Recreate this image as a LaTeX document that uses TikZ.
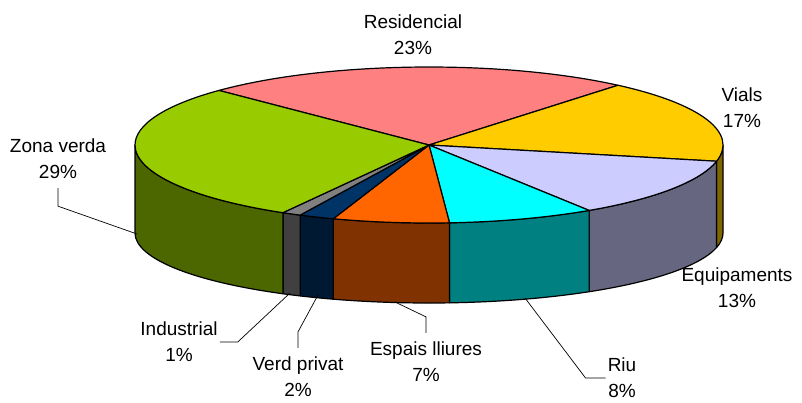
\documentclass[tikz,border=0pt]{standalone}
\usepackage{fontspec}
\setmainfont{Liberation Sans}
\usetikzlibrary{calc}

\definecolor{resid}{HTML}{FF8080}
\definecolor{vials}{HTML}{FFCC00}
\definecolor{equip}{HTML}{CCCCFF}
\definecolor{riu}{HTML}{00FFFF}
\definecolor{espais}{HTML}{FF6600}
\definecolor{verdpriv}{HTML}{003366}
\definecolor{indus}{HTML}{808080}
\definecolor{zverda}{HTML}{99CC00}

\begin{document}
\begin{tikzpicture}[x=1pt, y=-1pt,
    slice/.style={draw=black, line width=1.2pt, line join=round},
    lab/.style={align=center, inner xsep=2pt, inner ysep=9pt, font=\fontsize{19}{26}\selectfont},
    leader/.style={draw=black, line width=0.7pt}]
    \useasboundingbox (0,0) rectangle (802,402);

    \begin{scope}[shift={(429,145)}, yscale=-1]
        % Sides (front half only)
        \foreach \s/\e/\col in {0/-12/vials, -12/-57/equip, -57/-86/riu, -86/-109/espais,
                                -109/-116/verdpriv, -116/-119.8/indus, -119.8/-180/zverda} {
            \filldraw[slice, fill=\col!50!black] (\s:294 and 78)
                arc[start angle=\s, end angle=\e, x radius=294, y radius=78]
                -- ($(0,-88)+(\e:294 and 70)$)
                arc[start angle=\e, end angle=\s, x radius=294, y radius=70] -- cycle;
        }

        % Top face
        \foreach \s/\e/\col in {135.6/50/resid, 50/-12/vials, -12/-57/equip, -57/-86/riu,
                                -86/-109/espais, -109/-116/verdpriv, -116/-119.8/indus,
                                -119.8/-224.4/zverda} {
            \filldraw[slice, fill=\col] (0,0) -- (\s:294 and 78)
                arc[start angle=\s, end angle=\e, x radius=294, y radius=78] -- cycle;
        }
    \end{scope}

    % Leader ends on the pie
    \coordinate (zvtip) at (137,234);
    \coordinate (intip) at (290,293);
    \coordinate (vptip) at (318,295);
    \coordinate (eltip) at (395,302);
    \coordinate (rtip) at (525,298);

    % Labels
    \node[lab] (re) at (413,35) {Residencial\\23\%};
    \node[lab] (vi) at (742,108) {Vials\\17\%};
    \node[lab] (eq) at (737,288) {Equipaments\\13\%};
    \node[lab] (ri) at (622,378) {Riu\\8\%};
    \node[lab] (el) at (426,362) {Espais lliures\\7\%};
    \node[lab] (vp) at (298,377) {Verd privat\\2\%};
    \node[lab] (in) at (179,342) {Industrial\\1\%};
    \node[lab] (zv) at (58,159) {Zona verda\\29\%};

    \draw[leader] (zv.south) -- ++(0,18) -- (zvtip);
    \draw[leader] (in.east) -- ++(18,0) -- (intip);
    \draw[leader] (vp.north) -- ++(0,-16) -- (vptip);
    \draw[leader] (el.north) -- ++(0,-16) -- (eltip);
    \draw[leader] (ri.west) -- ++(-20,0) -- (rtip);
\end{tikzpicture}
\end{document}
